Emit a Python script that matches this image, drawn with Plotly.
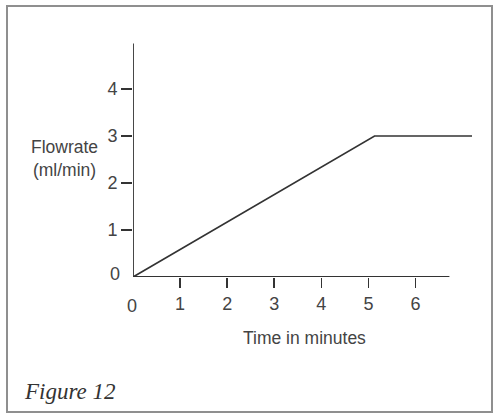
import plotly.graph_objects as go

time_min = [0, 5.13, 7.2]
flow_ml = [0, 3, 3]
x_ticks = [1, 2, 3, 4, 5, 6]
y_ticks = [1, 2, 3, 4]
x_label = "Time in minutes"
y_label = "Flowrate<br>(ml/min)"
caption = "Figure 12"

FONT = "Liberation Sans, Arial, sans-serif"
INK = "#333333"
TXT = "#444444"

fig = go.Figure()
fig.add_trace(go.Scatter(x=time_min, y=flow_ml, mode="lines",
                         line=dict(color=INK, width=1.7), hoverinfo="skip"))

W, H = 499, 420
ml, mt = 133, 42
pw, ph = 339, 235
mr = W - ml - pw
mb = H - mt - ph

def px(x):
    return (x - ml) / pw

def py(y):
    return (H - mb - y) / ph

fig.update_layout(
    width=W, height=H,
    margin=dict(l=ml, r=mr, t=mt, b=mb, pad=0),
    paper_bgcolor="white", plot_bgcolor="white",
    showlegend=False,
    font=dict(family=FONT, size=17.5, color=TXT),
    xaxis=dict(range=[0, 7.2], showgrid=False, zeroline=False, showline=False,
               tickvals=x_ticks, ticks="outside", ticklen=10, tickwidth=1.6,
               tickcolor=INK, tickfont=dict(family=FONT, size=18, color=TXT)),
    yaxis=dict(range=[0, 5], showgrid=False, zeroline=False, showline=False,
               tickvals=y_ticks, ticks="outside", ticklen=11, tickwidth=1.6,
               tickcolor=INK, tickfont=dict(family=FONT, size=18, color=TXT)),
    shapes=[
        dict(type="line", xref="x", yref="y", x0=0, x1=0, y0=0, y1=4.97,
             line=dict(color=INK, width=1.8)),
        dict(type="line", xref="x", yref="y", x0=-0.03, x1=6.72, y0=0, y1=0,
             line=dict(color=INK, width=1.8)),
        dict(type="rect", xref="paper", yref="paper",
             x0=px(7), x1=px(492), y0=py(412), y1=py(6),
             line=dict(color="#8f8f8f", width=2)),
    ],
    annotations=[
        dict(x=0, y=0, xref="x", yref="y", text="0", showarrow=False,
             font=dict(size=18), xanchor="center", yanchor="middle",
             xshift=-18, yshift=3),
        dict(x=0, y=0, xref="x", yref="y", text="0", showarrow=False,
             font=dict(size=18), xanchor="center", yanchor="middle",
             xshift=-1, yshift=-29),
        dict(x=px(304), y=py(338), xref="paper", yref="paper", text=x_label,
             showarrow=False, xanchor="center", yanchor="middle"),
        dict(x=px(64), y=py(158), xref="paper", yref="paper", text=y_label,
             showarrow=False, xanchor="center", yanchor="middle"),
        dict(x=px(22), y=py(391), xref="paper", yref="paper", text=caption,
             showarrow=False, xanchor="left", yanchor="middle",
             font=dict(family="Liberation Serif, DejaVu Serif, serif", size=23,
                       color="#333333", style="italic")),
    ],
)

fig.write_html("out.html",
               config={"displayModeBar": False, "staticPlot": True},
               post_script="document.body.style.margin='0';"
                           "document.body.style.overflow='hidden';")
